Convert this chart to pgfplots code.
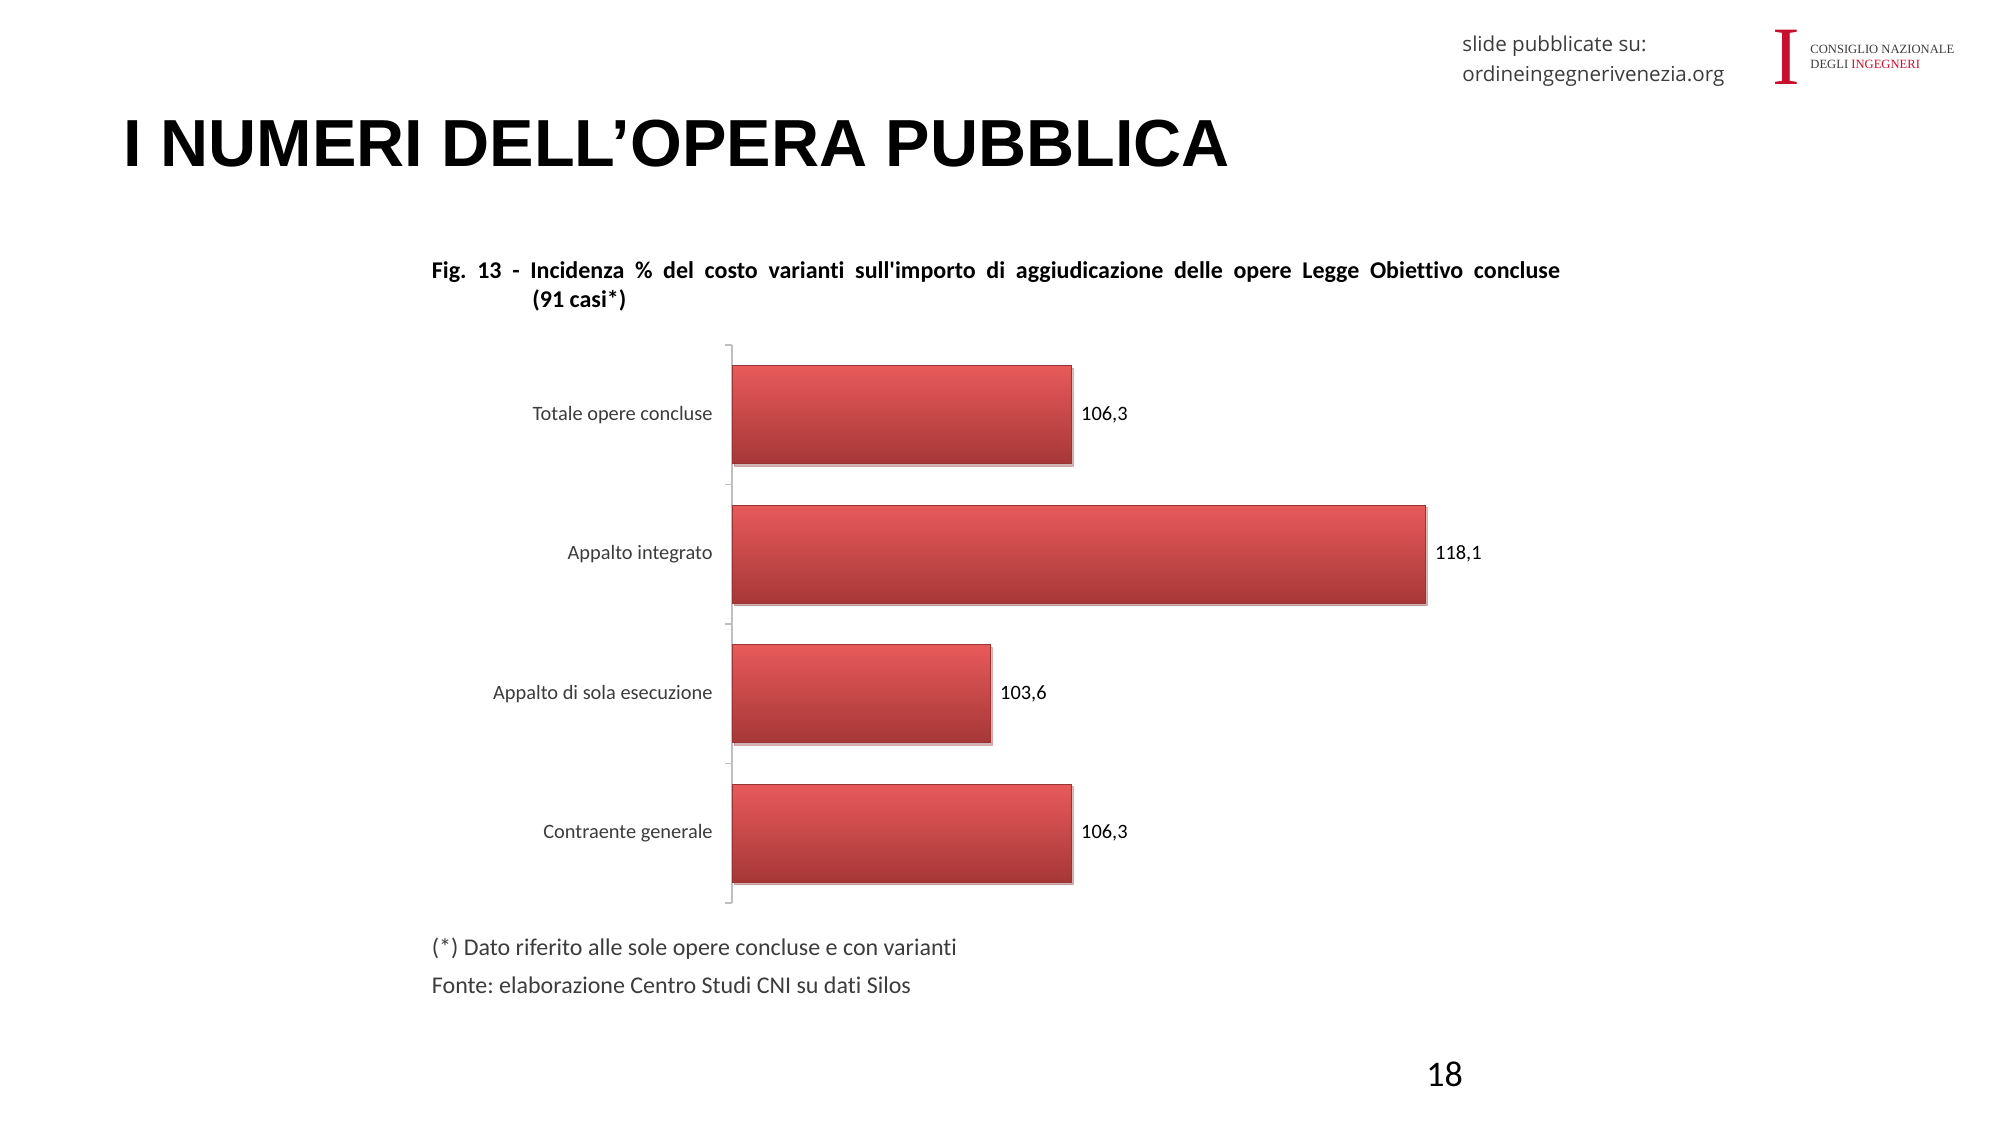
\documentclass[border=0pt]{standalone}
\usepackage{fontspec}
\setmainfont{Carlito}[Ligatures=NoCommon]
\newfontfamily\titlefont{Liberation Sans}
\newfontfamily\headfont{Open Sans}
\newfontfamily\logofont{Liberation Serif}
\usepackage{pgfplots}
\pgfplotsset{compat=1.18}
\usetikzlibrary{shadows}

\definecolor{bartop}{HTML}{E85A5A}
\definecolor{barmid}{HTML}{D64646}
\definecolor{barbot}{HTML}{A63737}
\definecolor{baredge}{HTML}{9A3333}
\definecolor{axgray}{HTML}{BFBFBF}
\definecolor{labgray}{HTML}{3C3C3C}
\definecolor{cnired}{HTML}{C8102E}

\pgfplotsset{
  redbar/.style={xbar, bar shift=0pt, top color=bartop, middle color=barmid,
    bottom color=barbot, draw=baredge, line width=0.5pt,
    drop shadow={shadow xshift=1.2pt, shadow yshift=-1.2pt, opacity=0.25}},
}

\begin{document}
\frenchspacing
\begin{tikzpicture}
  % slide 2000x1125 px -> 1000pt x 562.5pt
  \path[use as bounding box, fill=white] (0,0) rectangle (1000pt,562.5pt);

  % header
  \node[anchor=base west, inner sep=0pt, text=labgray] at (731pt,536.5pt)
    {\headfont\fontsize{10.3}{12}\selectfont slide pubblicate su:};
  \node[anchor=base west, inner sep=0pt, text=labgray] at (731pt,521.5pt)
    {\headfont\fontsize{10.3}{12}\selectfont ordineingegnerivenezia.org};
  \node[anchor=base, inner sep=0pt, text=cnired] at (893pt,520pt)
    {\logofont\fontsize{41.5}{42}\selectfont I};
  \node[anchor=base west, inner sep=0pt, text=labgray] at (905pt,535.5pt)
    {\logofont\fontsize{6.3}{7}\selectfont CONSIGLIO NAZIONALE};
  \node[anchor=base west, inner sep=0pt, text=labgray] at (905pt,528pt)
    {\logofont\fontsize{6.3}{7}\selectfont DEGLI \textcolor{cnired}{INGEGNERI}};

  % title
  \node[anchor=base west, inner sep=0pt] at (61.5pt,479pt)
    {\titlefont\bfseries\fontsize{33.3}{40}\selectfont I NUMERI DELL’OPERA PUBBLICA};

  % figure caption
  \node[anchor=base west, inner sep=0pt] at (215.75pt,423pt)
    {\bfseries\fontsize{12}{14}\selectfont\makebox[564pt][s]{Fig. 13 - Incidenza \% del costo varianti sull\textquotesingle importo di aggiudicazione delle opere Legge Obiettivo concluse}};
  \node[anchor=base west, inner sep=0pt] at (266pt,408.5pt)
    {\bfseries\fontsize{12}{14}\selectfont (91 casi*)};

  \begin{axis}[
    at={(366pt,111pt)}, anchor=south west,
    scale only axis, width=375pt, height=279pt,
    xbar, bar width=49pt,
    xmin=95, xmax=120,
    ymin=-0.5, ymax=3.5, y dir=reverse,
    axis x line=none,
    axis y line=left,
    y axis line style={-, draw=axgray, line width=0.75pt},
    ytick={0,1,2,3},
    yticklabels={Totale opere concluse, Appalto integrato, Appalto di sola esecuzione, Contraente generale},
    minor ytick={-0.5,0.5,1.5,2.5,3.5},
    major tick length=0pt, minor tick length=3.5pt, tick align=outside,
    minor tick style={draw=axgray, line width=0.75pt},
    yticklabel style={font=\fontsize{10.2}{12}\selectfont, text=labgray, inner sep=0pt, xshift=-9.5pt},
    point meta=x,
    nodes near coords,
    every node near coord/.append style={font=\fontsize{10.2}{12}\selectfont, text=black, xshift=1.5pt},
    nodes near coords style={/pgf/number format/.cd, fixed, precision=1, fixed zerofill, use comma, assume math mode=true},
  ]
    \addplot[redbar] coordinates {(106.3,0)};
    \addplot[redbar] coordinates {(118.1,1)};
    \addplot[redbar] coordinates {(103.6,2)};
    \addplot[redbar] coordinates {(106.3,3)};
  \end{axis}

  % notes
  \node[anchor=base west, inner sep=0pt, text=labgray] at (215.75pt,85pt)
    {\fontsize{12}{14}\selectfont (*) Dato riferito alle sole opere concluse e con varianti};
  \node[anchor=base west, inner sep=0pt, text=labgray] at (215.75pt,66pt)
    {\fontsize{12}{14}\selectfont Fonte: elaborazione Centro Studi CNI su dati Silos};

  % page number
  \node[anchor=base west, inner sep=0pt] at (713pt,19.3pt)
    {\fontsize{18}{20}\selectfont 18};
\end{tikzpicture}
\end{document}
